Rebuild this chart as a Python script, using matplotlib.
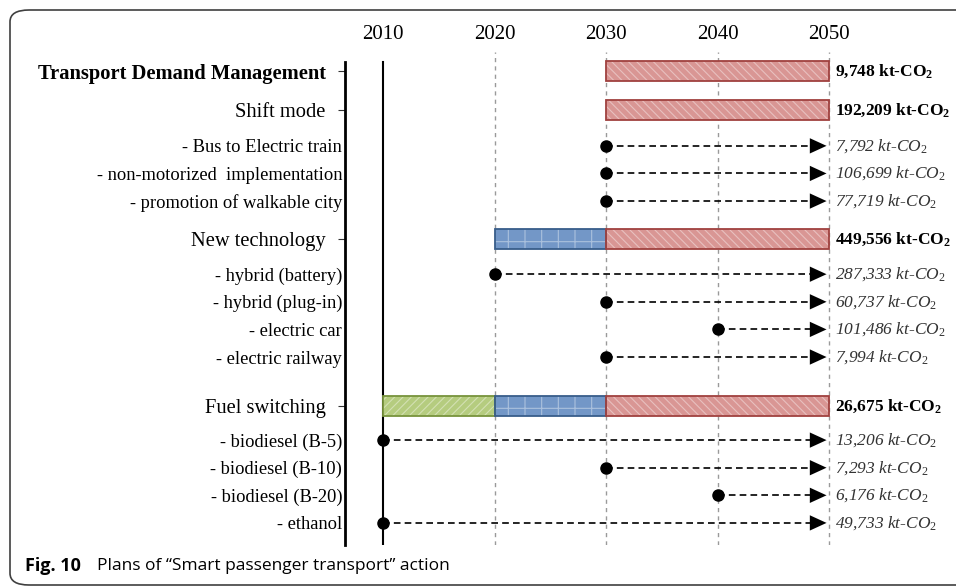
import matplotlib.pyplot as plt
import numpy as np
from matplotlib.patches import FancyBboxPatch

plt.rcParams['font.family'] = ['Liberation Serif', 'DejaVu Serif']
plt.rcParams['mathtext.fontset'] = 'custom'
plt.rcParams['mathtext.rm'] = 'Liberation Serif'
plt.rcParams['mathtext.it'] = 'Liberation Serif:italic'
plt.rcParams['mathtext.bf'] = 'Liberation Serif:bold'
plt.rcParams['hatch.linewidth'] = 0.8

# Rows of the plan (top to bottom)
labels = ['Transport Demand Management', 'Shift mode',
          '- Bus to Electric train', '- non-motorized  implementation', '- promotion of walkable city',
          'New technology',
          '- hybrid (battery)', '- hybrid (plug-in)', '- electric car', '- electric railway',
          'Fuel switching',
          '- biodiesel (B-5)', '- biodiesel (B-10)', '- biodiesel (B-20)', '- ethanol']
is_main = [True, True, False, False, False, True, False, False, False, False,
           True, False, False, False, False]
reduction = ['9,748', '192,209', '7,792', '106,699', '77,719', '449,556',
             '287,333', '60,737', '101,486', '7,994', '26,675',
             '13,206', '7,293', '6,176', '49,733']
start_year = [2030, 2030, 2030, 2030, 2030, 2020, 2020, 2030, 2040, 2030,
              2010, 2010, 2030, 2040, 2010]
end_year = 2050

# Phase bars for the main rows: (row label, start, end, phase)
phases = [('Transport Demand Management', 2030, 2050, 'c'),
          ('Shift mode', 2030, 2050, 'c'),
          ('New technology', 2020, 2030, 'b'),
          ('New technology', 2030, 2050, 'c'),
          ('Fuel switching', 2010, 2020, 'a'),
          ('Fuel switching', 2020, 2030, 'b'),
          ('Fuel switching', 2030, 2050, 'c')]
phase_style = {'a': ('#b5cc7f', '#77933c', '////'),
               'b': ('#7397c7', '#385d8a', '+'),
               'c': ('#d99694', '#a0413f', '\\\\\\\\')}
years = [2010, 2020, 2030, 2040, 2050]

# vertical layout: gaps between consecutive rows
gaps = [1.41, 1.3, 1, 1, 1.38, 1.27, 1, 1, 1, 1.78, 1.23, 1, 1, 1]
ypos = np.concatenate([[0], np.cumsum(gaps)])
row_y = dict(zip(labels, ypos))

fig = plt.figure(figsize=(9.56, 5.87), dpi=100)
ax = fig.add_axes([345 / 956, 1 - 545 / 587, 491 / 956, 493 / 587])
ax.set_xlim(2006.6, 2050.6)
ax.set_ylim(17.17, -0.69)

# grid / reference lines
for yr in years[1:]:
    ax.axvline(yr, color='#9a9a9a', lw=1, ls=(0, (3, 3)), zorder=0)
ax.axvline(2010, ymax=0.98, color='black', lw=1.5, zorder=1)

# phase bars
bh = 0.72
for name, s, e, ph in phases:
    fc, ec, hatch = phase_style[ph]
    y = row_y[name]
    ax.barh(y, e - s, left=s, height=bh, color=fc, edgecolor=(1, 1, 1, 0.4),
            hatch=hatch, lw=0, zorder=2)
    ax.barh(y, e - s, left=s, height=bh, facecolor='none', edgecolor=ec,
            lw=1.3, zorder=3)

# implementation arrows for the sub rows
for lab, main, sy, y in zip(labels, is_main, start_year, ypos):
    if main:
        continue
    ax.plot([sy, end_year - 1.1], [y, y], color='black', lw=1.2,
            ls=(0, (4, 2.5)), zorder=4)
    ax.plot(sy, y, 'o', color='black', ms=8, zorder=5, clip_on=False)
    ax.annotate('', xy=(end_year, y), xytext=(end_year - 1.5, y),
                arrowprops=dict(arrowstyle='-|>,head_length=1.2,head_width=0.55',
                                color='black', lw=0.01), zorder=5)

# reduction annotations
for lab, main, val, y in zip(labels, is_main, reduction, ypos):
    if main:
        txt = val + r' kt-CO$_\mathbf{2}$'
        ax.annotate(txt, xy=(end_year, y), xytext=(4, 0), textcoords='offset points',
                    ha='left', va='center', fontsize=12.5, fontweight='bold',
                    annotation_clip=False)
    else:
        txt = val + r' kt-CO$_\mathit{2}$'
        ax.annotate(txt, xy=(end_year, y), xytext=(4, 0), textcoords='offset points',
                    ha='left', va='center', fontsize=12.5, fontstyle='italic',
                    color='#333333', annotation_clip=False)

# axes styling
ax.xaxis.tick_top()
ax.set_xticks(years)
ax.set_xticklabels([str(v) for v in years], fontsize=15)
ax.tick_params(axis='x', length=0, pad=6)

main_y = [y for y, m in zip(ypos, is_main) if m]
main_l = [l for l, m in zip(labels, is_main) if m]
sub_y = [y for y, m in zip(ypos, is_main) if not m]
sub_l = [l for l, m in zip(labels, is_main) if not m]
ax.set_yticks(main_y)
ax.set_yticklabels(main_l, fontsize=14.8)
ax.yaxis.get_ticklabels()[0].set_fontweight('bold')
ax.set_yticks(sub_y, minor=True)
ax.set_yticklabels(sub_l, minor=True, fontsize=13.3)
ax.tick_params(axis='y', which='major', length=5, width=0.8, pad=9,
               color='#333333')
ax.tick_params(axis='y', which='minor', length=0, pad=2)

for side in ['top', 'right', 'bottom']:
    ax.spines[side].set_visible(False)
ax.spines['left'].set_linewidth(2)
ax.spines['left'].set_bounds(17.17, -0.33)

# figure frame and caption
frame = FancyBboxPatch((10 / 956, 2 / 587), 1.2, 575 / 587,
                       boxstyle='round,pad=0,rounding_size=0.02',
                       transform=fig.transFigure, facecolor='none',
                       edgecolor='#404040', lw=1.2, clip_on=False)
fig.patches.append(frame)
fig.text(25 / 956, 1 - 566 / 587, 'Fig. 10', fontsize=13, fontweight='bold',
         family=['Open Sans', 'DejaVu Sans'], va='center', ha='left')
fig.text(97 / 956, 1 - 566 / 587, 'Plans of \u201cSmart passenger transport\u201d action',
         fontsize=12.5, family=['Open Sans', 'DejaVu Sans'], va='center', ha='left')

fig.savefig('out.png', dpi=100)
